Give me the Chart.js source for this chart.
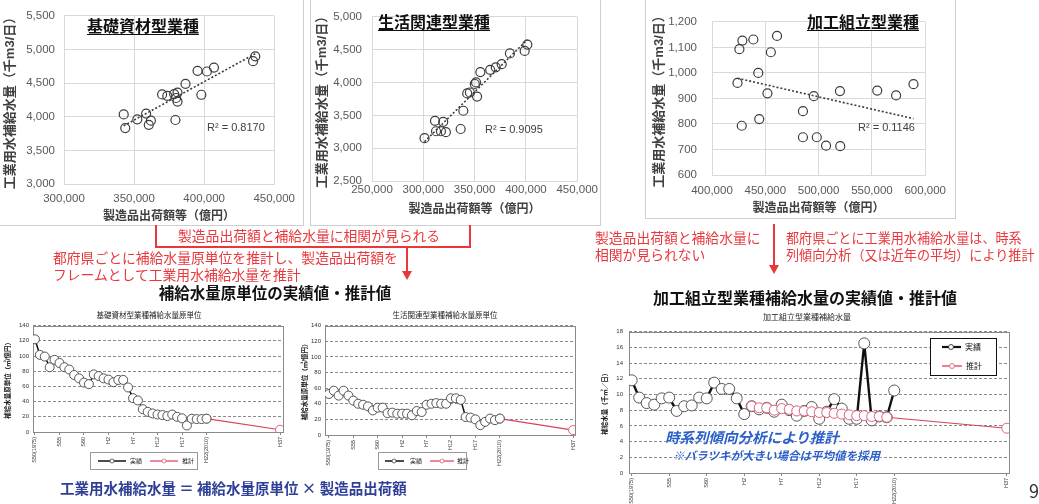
<!DOCTYPE html>
<html lang="ja"><head><meta charset="utf-8">
<script src="https://cdn.jsdelivr.net/npm/chart.js@4.4.1/dist/chart.umd.min.js"></script>
<style>
html,body{margin:0;padding:0;background:#fff;}
body{position:relative;width:1039px;height:504px;overflow:hidden;font-family:"Noto Sans CJK JP","Liberation Sans",sans-serif;}
canvas{position:absolute;}
.t{position:absolute;white-space:nowrap;line-height:1;}
.frame{position:absolute;border:1px solid #cfcfcf;box-sizing:border-box;}
.red{color:#e8383d;font-size:13.8px;}
.redr{color:#e8383d;font-size:13.1px;}
.ttl{font-weight:bold;font-size:16px;color:#111;text-decoration:underline;text-underline-offset:2px;}
.r2{font-family:"Liberation Sans",sans-serif;font-size:11px;color:#404040;}
svg{position:absolute;left:0;top:0;}
</style></head><body>
<div class="frame" style="left:-1px;top:-1px;width:305px;height:227px"></div>
<div class="frame" style="left:310px;top:-1px;width:291px;height:227px"></div>
<div class="frame" style="left:645px;top:-1px;width:311px;height:220px"></div>

<canvas id="s1" width="303" height="225" style="left:0;top:0"></canvas>
<canvas id="s2" width="290" height="225" style="left:310px;top:0"></canvas>
<canvas id="s3" width="310" height="218" style="left:645px;top:0"></canvas>
<canvas id="ca" width="300" height="150" style="left:0;top:318px"></canvas>
<canvas id="cb" width="300" height="150" style="left:290px;top:318px"></canvas>
<canvas id="cc" width="449" height="182" style="left:590px;top:322px"></canvas>

<svg width="1039" height="504" viewBox="0 0 1039 504">
  <path d="M156 225 V247 H470 V225" fill="none" stroke="#e8383d" stroke-width="2"/>
  <line x1="407" y1="247" x2="407" y2="272" stroke="#e8383d" stroke-width="2"/>
  <polygon points="402,271 412,271 407,280" fill="#e8383d"/>
  <line x1="774" y1="224" x2="774" y2="266" stroke="#e8383d" stroke-width="2"/>
  <polygon points="769,265 779,265 774,274" fill="#e8383d"/>
  <!-- legend A -->
  <rect x="90.5" y="452.5" width="107" height="17" fill="#fff" stroke="#999" stroke-width="1"/>
  <line x1="98" y1="461" x2="126" y2="461" stroke="#111" stroke-width="1.5"/>
  <circle cx="112" cy="461" r="2" fill="#fff" stroke="#444" stroke-width="0.8"/>
  <line x1="150" y1="461" x2="178" y2="461" stroke="#d8405a" stroke-width="1.2"/>
  <circle cx="164" cy="461" r="2" fill="#fff" stroke="#e0607a" stroke-width="0.8"/>
  <!-- legend B -->
  <rect x="378.5" y="452.5" width="88" height="17" fill="#fff" stroke="#999" stroke-width="1"/>
  <line x1="385" y1="461" x2="404" y2="461" stroke="#111" stroke-width="1.5"/>
  <circle cx="394" cy="461" r="2" fill="#fff" stroke="#444" stroke-width="0.8"/>
  <line x1="430" y1="461" x2="454" y2="461" stroke="#d8405a" stroke-width="1.2"/>
  <circle cx="442" cy="461" r="2" fill="#fff" stroke="#e0607a" stroke-width="0.8"/>
  <!-- legend C -->
  <rect x="930.5" y="338.5" width="66" height="37" fill="#fff" stroke="#111" stroke-width="1"/>
  <line x1="942" y1="347" x2="961" y2="347" stroke="#111" stroke-width="2.2"/>
  <circle cx="951" cy="347" r="2.5" fill="#fff" stroke="#333" stroke-width="0.9"/>
  <line x1="942" y1="366" x2="962" y2="366" stroke="#d8405a" stroke-width="1.3"/>
  <circle cx="952" cy="366" r="2.5" fill="#fff" stroke="#e0607a" stroke-width="0.9"/>
</svg>

<div class="t ttl" style="left:87px;top:17px">基礎資材型業種</div>
<div class="t ttl" style="left:378px;top:13px">生活関連型業種</div>
<div class="t ttl" style="left:807px;top:13px">加工組立型業種</div>
<div class="t r2" style="left:207px;top:122px">R² = 0.8170</div>
<div class="t r2" style="left:485px;top:124px">R² = 0.9095</div>
<div class="t r2" style="left:858px;top:122px">R² = 0.1146</div>

<div class="t red" style="left:178px;top:229px">製造品出荷額と補給水量に相関が見られる</div>
<div class="t red" style="left:53px;top:251px">都府県ごとに補給水量原単位を推計し、製造品出荷額を</div>
<div class="t red" style="left:53px;top:268px">フレームとして工業用水補給水量を推計</div>
<div class="t" style="left:275px;top:285px;transform:translateX(-50%);font-size:15.5px;font-weight:bold;color:#111">補給水量原単位の実績値・推計値</div>
<div class="t red" style="left:595px;top:231px">製造品出荷額と補給水量に</div>
<div class="t red" style="left:595px;top:248px">相関が見られない</div>
<div class="t redr" style="left:786px;top:231px">都府県ごとに工業用水補給水量は、時系</div>
<div class="t redr" style="left:786px;top:248px">列傾向分析（又は近年の平均）により推計</div>
<div class="t" style="left:805px;top:289px;transform:translateX(-50%);font-size:16px;font-weight:bold;color:#111">加工組立型業種補給水量の実績値・推計値</div>

<div class="t" style="left:149px;top:311px;transform:translateX(-50%);font-size:7.5px;color:#222">基礎資材型業種補給水量原単位</div>
<div class="t" style="left:445px;top:311px;transform:translateX(-50%);font-size:7.5px;color:#222">生活関連型業種補給水量原単位</div>
<div class="t" style="left:807px;top:313px;transform:translateX(-50%);font-size:8px;color:#222">加工組立型業種補給水量</div>

<div class="t" style="left:130px;top:458px;font-size:6px;color:#222">実績</div>
<div class="t" style="left:182px;top:458px;font-size:6px;color:#222">推計</div>
<div class="t" style="left:410px;top:458px;font-size:6px;color:#222">実績</div>
<div class="t" style="left:457px;top:458px;font-size:6px;color:#222">推計</div>
<div class="t" style="left:965px;top:343px;font-size:8px;color:#111">実績</div>
<div class="t" style="left:966px;top:362px;font-size:8px;color:#111">推計</div>

<div class="t" style="left:665px;top:430px;font-size:14.5px;font-weight:bold;font-style:italic;color:#2a5fc8;text-shadow:0 0 2px #fff,0 0 2px #fff">時系列傾向分析により推計</div>
<div class="t" style="left:673px;top:450px;font-size:11.5px;font-weight:bold;font-style:italic;color:#2a5fc8;text-shadow:0 0 2px #fff,0 0 2px #fff">※バラツキが大きい場合は平均値を採用</div>

<div class="t" style="left:60px;top:481px;font-size:14.5px;font-weight:bold;color:#2f3f98">工業用水補給水量 ＝ 補給水量原単位 × 製造品出荷額</div>
<div class="t" style="left:1029px;top:481px;font-size:18px;color:#333">9</div>

<script>
// ---- scatter data (製造品出荷額等 [億円], 工業用水補給水量 [千m3/日]) ----
const s1X = [342600, 343700, 352300, 358600, 360500, 362000, 370000, 373700, 378600, 379500, 380000, 381000, 381000, 386700, 395300, 398000, 402000, 407000, 434900, 436500];
const s1Y = [4034, 3832, 3962, 4048, 3880, 3942, 4332, 4312, 4337, 3952, 4279, 4226, 4360, 4490, 4683, 4327, 4673, 4731, 4827, 4899];
const s2X = [301200, 311400, 312400, 317200, 319400, 322000, 336400, 339000, 342800, 345400, 350200, 351400, 352400, 355600, 365200, 370600, 376400, 384400, 398800, 401400];
const s2Y = [3153, 3416, 3258, 3258, 3402, 3244, 3292, 3570, 3834, 3848, 3978, 4002, 3786, 4160, 4194, 4232, 4280, 4443, 4482, 4578];
const s3X = [423900, 425700, 428500, 427900, 438800, 443400, 444300, 452000, 455200, 461000, 485300, 485300, 495500, 498300, 507000, 520300, 520000, 555000, 572700, 589000];
const s3Y = [961, 1093, 1127, 793, 1131, 1000, 819, 920, 1081, 1145, 850, 748, 909, 748, 715, 713, 929, 931, 912, 956];

// ---- time series ----
const yearsAct = [1975,1976,1977,1978,1979,1980,1981,1982,1983,1984,1985,1986,1987,1988,1989,1990,1991,1992,1993,1994,1995,1996,1997,1998,1999,2000,2001,2002,2003,2004,2005,2006,2007,2008,2009,2010];
const aAct = [122, 101.5, 99.3, 85.2, 95, 90.8, 85.2, 82.2, 75, 70.6, 65, 63, 75.8, 73.6, 70.6, 69, 65.5, 68.5, 68.5, 58.6, 44.5, 41.5, 30, 26.5, 24.4, 23, 22.3, 21, 23, 20, 18, 8.6, 17.5, 17, 17, 17.5];
const aEstYears = [2010, 2025];
const aEst = [17.5, 3];
const bAct = [52.5, 56.7, 50.4, 56.7, 50.4, 44, 40, 38.7, 36.6, 31.5, 35, 35, 28, 28.6, 27.3, 27.3, 27.3, 25.2, 30.7, 29.4, 38.7, 40, 40.8, 40, 40, 47, 47, 45, 23, 22.3, 20, 12.6, 16.8, 21, 19, 21];
const bEstYears = [2010, 2025];
const bEst = [21, 6.3];
const cAct = [11.8, 9.6, 8.9, 8.7, 9.5, 9.6, 7.9, 8.5, 8.6, 9.6, 9.5, 11.5, 10.7, 10.7, 9.5, 7.5, 8.5, 8.1, 8.3, 7.8, 8.7, 8.0, 7.3, 7.9, 8.4, 6.9, 7.8, 9.4, 8.2, 6.9, 6.9, 16.5, 6.7, 7.2, 7.1, 10.5];
const cEstYears = [1991,1992,1993,1994,1995,1996,1997,1998,1999,2000,2001,2002,2003,2004,2005,2006,2007,2008,2009,2025];
const cEst = [8.5, 8.3, 8.3, 8.0, 8.2, 8.1, 7.9, 7.9, 7.8, 7.7, 7.7, 7.6, 7.5, 7.4, 7.3, 7.3, 7.2, 7.2, 7.1, 5.7];
const tickYears = [1975, 1980, 1985, 1990, 1995, 2000, 2005, 2010, 2025];
const tickNames = ['S50(1975)', 'S55', 'S60', 'H2', 'H7', 'H12', 'H17', 'H22(2010)', 'H37'];

const FONT = '"Liberation Sans","Noto Sans CJK JP",sans-serif';
Chart.defaults.font.family = FONT;
Chart.defaults.animation = false;

const fmt = v => String(v).replace(/\B(?=(\d{3})+(?!\d))/g, ',');
const fit = v => s => { if (s.isHorizontal()) s.height = v; else s.width = v; };

function regression(xs, ys) {
  const n = xs.length;
  let mx = 0, my = 0;
  for (let i = 0; i < n; i++) { mx += xs[i]; my += ys[i]; }
  mx /= n; my /= n;
  let sxy = 0, sxx = 0;
  for (let i = 0; i < n; i++) { sxy += (xs[i]-mx)*(ys[i]-my); sxx += (xs[i]-mx)*(xs[i]-mx); }
  const b = sxy / sxx;
  return { a: my - b*mx, b };
}

function scatter(id, xs, ys, o) {
  const pts = xs.map((x, i) => ({ x, y: ys[i] }));
  const r = regression(xs, ys);
  const x0 = Math.min(...xs), x1 = Math.max(...xs);
  const trend = [{ x: x0, y: r.a + r.b*x0 }, { x: x1, y: r.a + r.b*x1 }];
  new Chart(document.getElementById(id), {
    type: 'scatter',
    data: { datasets: [
      { data: pts, pointRadius: 4.5, pointBorderWidth: 1.2, pointBorderColor: '#3c3c3c', pointBackgroundColor: 'rgba(0,0,0,0)' },
      { data: trend, showLine: true, pointRadius: 0, borderColor: '#3c3c3c', borderWidth: 1.6, borderDash: [2, 2] }
    ]},
    options: {
      responsive: false, animation: false, events: [],
      layout: { padding: o.pad },
      plugins: { legend: { display: false }, tooltip: { enabled: false } },
      scales: {
        x: { type: 'linear', min: o.xmin, max: o.xmax,
          grid: { color: '#d9d9d9', drawTicks: false }, border: { color: '#d9d9d9' },
          ticks: { stepSize: o.xstep, padding: o.xtp, color: '#595959', font: { size: 11.5 }, maxRotation: 0, autoSkip: false, callback: v => fmt(v) },
          title: { display: true, text: '製造品出荷額等（億円）', color: '#404040', font: { size: 12, weight: 'bold' }, padding: { top: 0, bottom: o.xtpad } },
          afterFit: fit(o.xh) },
        y: { min: o.ymin, max: o.ymax,
          grid: { color: '#d9d9d9', drawTicks: false }, border: { color: '#d9d9d9' },
          ticks: { stepSize: o.ystep, padding: o.ytp, color: '#595959', font: { size: 11.5 }, autoSkip: false, callback: v => fmt(v) },
          title: { display: true, text: '工業用水補給水量（千m3/日）', color: '#404040', font: { size: 13, weight: 'bold' }, padding: { top: o.ytpad, bottom: 0 } },
          afterFit: fit(o.yw) }
      }
    }
  });
}

const framePlugin = {
  id: 'frame',
  beforeDatasetsDraw(c) {
    const { left, top, width, height } = c.chartArea;
    const x = c.ctx; x.save(); x.strokeStyle = '#8a8a8a'; x.lineWidth = 1;
    x.strokeRect(Math.round(left)+0.5, Math.round(top)+0.5, Math.round(width), Math.round(height)); x.restore();
  }
};

function lineChart(id, o) {
  new Chart(document.getElementById(id), {
    type: 'scatter',
    data: { datasets: [
      { data: yearsAct.map((x, i) => ({ x, y: o.act[i] })), showLine: true, borderColor: '#111', borderWidth: o.bw,
        pointRadius: o.r, pointBorderColor: '#444', pointBorderWidth: 0.9, pointBackgroundColor: '#fff', order: 1 },
      { data: o.estYears.map((x, i) => ({ x, y: o.est[i] })), showLine: true, borderColor: '#d8405a', borderWidth: 1.2,
        pointRadius: o.r2, pointBorderColor: '#e0607a', pointBorderWidth: 1, pointBackgroundColor: '#fff', order: o.estOrder }
    ]},
    options: {
      responsive: false, animation: false, events: [],
      layout: { padding: o.pad },
      plugins: { legend: { display: false }, tooltip: { enabled: false } },
      scales: {
        x: { type: 'linear', min: o.xmin, max: o.xmax,
          afterBuildTicks: s => { s.ticks = tickYears.map(v => ({ value: v })); },
          ticks: { autoSkip: false, minRotation: 90, maxRotation: 90, font: { size: 5.5 }, color: '#333', padding: 2,
            callback: (v, i) => tickNames[i] },
          grid: { drawOnChartArea: false, drawTicks: true, tickLength: 3, color: '#888' },
          border: { display: false },
          afterFit: fit(o.xh) },
        y: { min: 0, max: o.ymax,
          ticks: { stepSize: o.ystep, font: { size: 6 }, color: '#333', padding: o.ytp },
          grid: { color: '#8a8a8a', drawTicks: false },
          border: { display: false, dash: [3, 2] },
          title: { display: true, text: o.ytitle, font: { size: 6.5, weight: 'bold' }, color: '#222', padding: { top: o.ytpad, bottom: 0 } },
          afterFit: fit(o.yw) }
      }
    },
    plugins: [framePlugin]
  });
}

scatter('s1', s1X, s1Y, { pad: { left: 2, right: 20, top: 9, bottom: 0 }, xmin: 300000, xmax: 450000, xstep: 50000,
  ymin: 3000, ymax: 5500, ystep: 500, xh: 41, yw: 62, xtp: 8, ytp: 9, xtpad: 1, ytpad: 1 });
scatter('s2', s2X, s2Y, { pad: { left: 0, right: 20, top: 7, bottom: 0 }, xmin: 250000, xmax: 450000, xstep: 50000,
  ymin: 2500, ymax: 5000, ystep: 500, xh: 44, yw: 62, xtp: 2, ytp: 10, xtpad: 8, ytpad: 5 });
scatter('s3', s3X, s3Y, { pad: { left: 0, right: 28, top: 2, bottom: 0 }, xmin: 400000, xmax: 600000, xstep: 50000,
  ymin: 600, ymax: 1200, ystep: 100, xh: 43, yw: 67, xtp: 9, ytp: 15, xtpad: 2, ytpad: 7 });

lineChart('ca', { act: aAct, estYears: aEstYears, est: aEst, bw: 1.5, r: 4.5, r2: 4.5, estOrder: 2,
  pad: { left: 0, right: 17, top: 5, bottom: 0 }, xmin: 1974.6, xmax: 2025.6, xh: 36, yw: 33, ymax: 140, ystep: 20, ytp: 4, ytpad: 4,
  ytitle: '補給水量原単位（㎥/億円）' });
lineChart('cb', { act: bAct, estYears: bEstYears, est: bEst, bw: 1.5, r: 4.5, r2: 4.5, estOrder: 2,
  pad: { left: 0, right: 15, top: 6, bottom: 0 }, xmin: 1974.2, xmax: 2025.4, xh: 33, yw: 35, ymax: 140, ystep: 20, ytp: 4, ytpad: 11,
  ytitle: '補給水量原単位（㎥/億円）' });
lineChart('cc', { act: cAct, estYears: cEstYears, est: cEst, bw: 2.4, r: 5.5, r2: 5, estOrder: 0,
  pad: { left: 0, right: 30, top: 8, bottom: 0 }, xmin: 1974.64, xmax: 2025.3, xh: 31, yw: 39, ymax: 18, ystep: 2, ytp: 6, ytpad: 11,
  ytitle: '補給水量（千㎥／日）' });
</script>
</body></html>
